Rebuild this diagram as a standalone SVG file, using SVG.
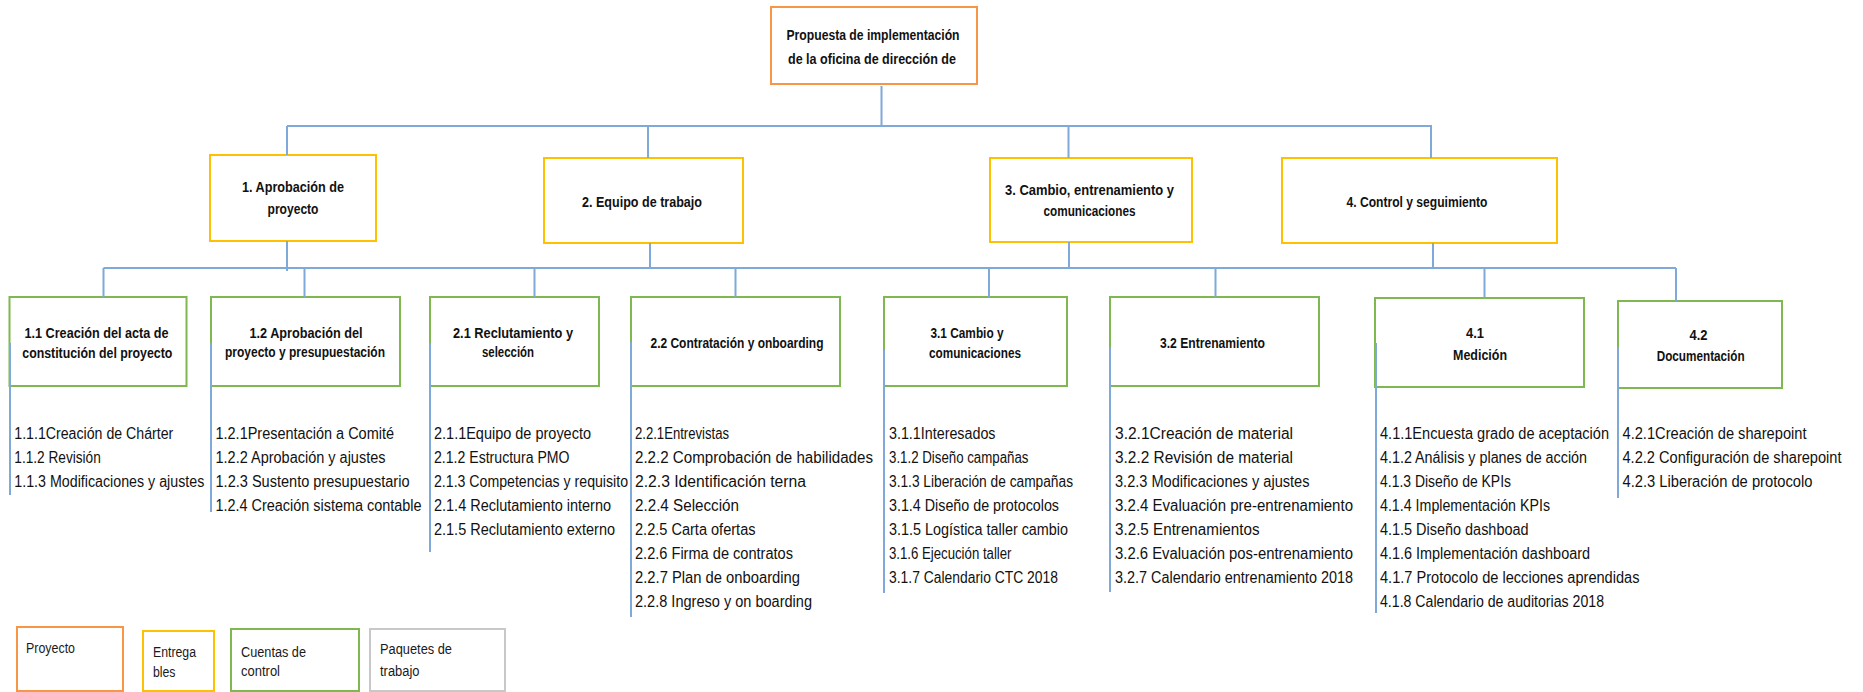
<svg xmlns="http://www.w3.org/2000/svg" width="1863" height="692" viewBox="0 0 1863 692">
  <style>
    .box { fill: #ffffff; stroke-width: 2; }
    .root { stroke: #F79646; }
    .del { stroke: #FFC000; }
    .acc { stroke: #7FB750; }
    .pkg { stroke: #C8C8C8; }
    .lbl { font-family: "Liberation Sans", Arial, sans-serif; font-size: 14px; font-weight: bold; fill: #111111; text-anchor: middle; }
    .leg { font-family: "Liberation Sans", Arial, sans-serif; font-size: 14px; fill: #1a1a1a; }
    .item { font-family: "Liberation Sans", Arial, sans-serif; font-size: 16px; fill: #111111; }
    .wire { fill: none; stroke: #7EA9D8; stroke-width: 2; }
  </style>
  <rect width="1863" height="692" fill="#ffffff"/>

  <!-- Root -->
  <g id="root">
    <rect class="box root" x="771" y="7" width="206" height="77"/>
    <text class="lbl" x="873" y="40" textLength="173" lengthAdjust="spacingAndGlyphs">Propuesta de implementación</text>
    <text class="lbl" x="872" y="64" textLength="168" lengthAdjust="spacingAndGlyphs">de la oficina de dirección de</text>
  </g>

  <!-- Deliverables -->
  <g id="d1">
    <rect class="box del" x="210" y="155" width="166" height="86"/>
    <text class="lbl" x="293" y="192" textLength="102" lengthAdjust="spacingAndGlyphs">1. Aprobación de</text>
    <text class="lbl" x="293" y="214" textLength="51" lengthAdjust="spacingAndGlyphs">proyecto</text>
  </g>
  <g id="d2">
    <rect class="box del" x="544" y="158" width="199" height="85"/>
    <text class="lbl" x="642" y="207" textLength="120" lengthAdjust="spacingAndGlyphs">2. Equipo de trabajo</text>
  </g>
  <g id="d3">
    <rect class="box del" x="990" y="158" width="202" height="84"/>
    <text class="lbl" x="1089.5" y="195" textLength="169" lengthAdjust="spacingAndGlyphs">3. Cambio, entrenamiento y</text>
    <text class="lbl" x="1089.5" y="216" textLength="92" lengthAdjust="spacingAndGlyphs">comunicaciones</text>
  </g>
  <g id="d4">
    <rect class="box del" x="1282" y="158" width="275" height="85"/>
    <text class="lbl" x="1417" y="207" textLength="141" lengthAdjust="spacingAndGlyphs">4. Control y seguimiento</text>
  </g>

  <!-- Control accounts -->
  <g id="a11">
    <rect class="box acc" x="9.5" y="297" width="177" height="89"/>
    <text class="lbl" x="96.5" y="338" textLength="144" lengthAdjust="spacingAndGlyphs">1.1 Creación del acta de</text>
    <text class="lbl" x="97.3" y="358" textLength="150" lengthAdjust="spacingAndGlyphs">constitución del proyecto</text>
  </g>
  <g id="a12">
    <rect class="box acc" x="211" y="297" width="189" height="89"/>
    <text class="lbl" x="306" y="338" textLength="113" lengthAdjust="spacingAndGlyphs">1.2 Aprobación del</text>
    <text class="lbl" x="305" y="357" textLength="160" lengthAdjust="spacingAndGlyphs">proyecto y presupuestación</text>
  </g>
  <g id="a21">
    <rect class="box acc" x="430" y="297" width="169" height="89"/>
    <text class="lbl" x="513" y="338" textLength="120" lengthAdjust="spacingAndGlyphs">2.1 Reclutamiento y</text>
    <text class="lbl" x="508" y="357" textLength="52" lengthAdjust="spacingAndGlyphs">selección</text>
  </g>
  <g id="a22">
    <rect class="box acc" x="631" y="297" width="209" height="89"/>
    <text class="lbl" x="737" y="348" textLength="173" lengthAdjust="spacingAndGlyphs">2.2 Contratación y onboarding</text>
  </g>
  <g id="a31">
    <rect class="box acc" x="884" y="297" width="183" height="89"/>
    <text class="lbl" x="967" y="338" textLength="73" lengthAdjust="spacingAndGlyphs">3.1 Cambio y</text>
    <text class="lbl" x="975" y="358" textLength="92" lengthAdjust="spacingAndGlyphs">comunicaciones</text>
  </g>
  <g id="a32">
    <rect class="box acc" x="1110" y="297" width="209" height="89"/>
    <text class="lbl" x="1212.5" y="348" textLength="105" lengthAdjust="spacingAndGlyphs">3.2 Entrenamiento</text>
  </g>
  <g id="a41">
    <rect class="box acc" x="1375" y="298" width="209" height="89"/>
    <text class="lbl" x="1475" y="338" textLength="18" lengthAdjust="spacingAndGlyphs">4.1</text>
    <text class="lbl" x="1480" y="360" textLength="54" lengthAdjust="spacingAndGlyphs">Medición</text>
  </g>
  <g id="a42">
    <rect class="box acc" x="1618" y="301" width="164" height="87"/>
    <text class="lbl" x="1698.5" y="340" textLength="18" lengthAdjust="spacingAndGlyphs">4.2</text>
    <text class="lbl" x="1700.7" y="361" textLength="88" lengthAdjust="spacingAndGlyphs">Documentación</text>
  </g>

  <!-- Work packages -->
  <g id="p11">
    <text class="item" x="14.3" y="439" textLength="159" lengthAdjust="spacingAndGlyphs">1.1.1Creación de Chárter</text>
    <text class="item" x="14.3" y="463" textLength="86.5" lengthAdjust="spacingAndGlyphs">1.1.2 Revisión</text>
    <text class="item" x="14.3" y="487" textLength="190" lengthAdjust="spacingAndGlyphs">1.1.3 Modificaciones y ajustes</text>
  </g>
  <g id="p12">
    <text class="item" x="215.5" y="439" textLength="178.5" lengthAdjust="spacingAndGlyphs">1.2.1Presentación a Comité</text>
    <text class="item" x="215.5" y="463" textLength="170" lengthAdjust="spacingAndGlyphs">1.2.2 Aprobación y ajustes</text>
    <text class="item" x="215.5" y="487" textLength="194" lengthAdjust="spacingAndGlyphs">1.2.3 Sustento presupuestario</text>
    <text class="item" x="215.5" y="511" textLength="206" lengthAdjust="spacingAndGlyphs">1.2.4 Creación sistema contable</text>
  </g>
  <g id="p21">
    <text class="item" x="434" y="439" textLength="157" lengthAdjust="spacingAndGlyphs">2.1.1Equipo de proyecto</text>
    <text class="item" x="434" y="463" textLength="135.5" lengthAdjust="spacingAndGlyphs">2.1.2 Estructura PMO</text>
    <text class="item" x="434" y="487" textLength="194" lengthAdjust="spacingAndGlyphs">2.1.3 Competencias y requisito</text>
    <text class="item" x="434" y="511" textLength="177" lengthAdjust="spacingAndGlyphs">2.1.4 Reclutamiento interno</text>
    <text class="item" x="434" y="535" textLength="181" lengthAdjust="spacingAndGlyphs">2.1.5 Reclutamiento externo</text>
  </g>
  <g id="p22">
    <text class="item" x="635" y="439" textLength="94" lengthAdjust="spacingAndGlyphs">2.2.1Entrevistas</text>
    <text class="item" x="635" y="463" textLength="238" lengthAdjust="spacingAndGlyphs">2.2.2 Comprobación de habilidades</text>
    <text class="item" x="635" y="487" textLength="171" lengthAdjust="spacingAndGlyphs">2.2.3 Identificación terna</text>
    <text class="item" x="635" y="511" textLength="104" lengthAdjust="spacingAndGlyphs">2.2.4 Selección</text>
    <text class="item" x="635" y="535" textLength="120.5" lengthAdjust="spacingAndGlyphs">2.2.5 Carta ofertas</text>
    <text class="item" x="635" y="559" textLength="158" lengthAdjust="spacingAndGlyphs">2.2.6 Firma de contratos</text>
    <text class="item" x="635" y="583" textLength="165" lengthAdjust="spacingAndGlyphs">2.2.7 Plan de onboarding</text>
    <text class="item" x="635" y="607" textLength="177" lengthAdjust="spacingAndGlyphs">2.2.8 Ingreso y on boarding</text>
  </g>
  <g id="p31">
    <text class="item" x="889" y="439" textLength="106.5" lengthAdjust="spacingAndGlyphs">3.1.1Interesados</text>
    <text class="item" x="889" y="463" textLength="139.5" lengthAdjust="spacingAndGlyphs">3.1.2 Diseño campañas</text>
    <text class="item" x="889" y="487" textLength="184" lengthAdjust="spacingAndGlyphs">3.1.3 Liberación de campañas</text>
    <text class="item" x="889" y="511" textLength="170" lengthAdjust="spacingAndGlyphs">3.1.4 Diseño de protocolos</text>
    <text class="item" x="889" y="535" textLength="179" lengthAdjust="spacingAndGlyphs">3.1.5 Logística taller cambio</text>
    <text class="item" x="889" y="559" textLength="122.5" lengthAdjust="spacingAndGlyphs">3.1.6 Ejecución taller</text>
    <text class="item" x="889" y="583" textLength="169" lengthAdjust="spacingAndGlyphs">3.1.7 Calendario CTC 2018</text>
  </g>
  <g id="p32">
    <text class="item" x="1115" y="439" textLength="178" lengthAdjust="spacingAndGlyphs">3.2.1Creación de material</text>
    <text class="item" x="1115" y="463" textLength="178" lengthAdjust="spacingAndGlyphs">3.2.2 Revisión de material</text>
    <text class="item" x="1115" y="487" textLength="194.5" lengthAdjust="spacingAndGlyphs">3.2.3 Modificaciones y ajustes</text>
    <text class="item" x="1115" y="511" textLength="238" lengthAdjust="spacingAndGlyphs">3.2.4 Evaluación pre-entrenamiento</text>
    <text class="item" x="1115" y="535" textLength="144.5" lengthAdjust="spacingAndGlyphs">3.2.5 Entrenamientos</text>
    <text class="item" x="1115" y="559" textLength="238" lengthAdjust="spacingAndGlyphs">3.2.6 Evaluación pos-entrenamiento</text>
    <text class="item" x="1115" y="583" textLength="238" lengthAdjust="spacingAndGlyphs">3.2.7 Calendario entrenamiento 2018</text>
  </g>
  <g id="p41">
    <text class="item" x="1380" y="439" textLength="229" lengthAdjust="spacingAndGlyphs">4.1.1Encuesta grado de aceptación</text>
    <text class="item" x="1380" y="463" textLength="207" lengthAdjust="spacingAndGlyphs">4.1.2 Análisis y planes de acción</text>
    <text class="item" x="1380" y="487" textLength="131" lengthAdjust="spacingAndGlyphs">4.1.3 Diseño de KPIs</text>
    <text class="item" x="1380" y="511" textLength="170" lengthAdjust="spacingAndGlyphs">4.1.4 Implementación KPIs</text>
    <text class="item" x="1380" y="535" textLength="148.5" lengthAdjust="spacingAndGlyphs">4.1.5 Diseño dashboad</text>
    <text class="item" x="1380" y="559" textLength="210" lengthAdjust="spacingAndGlyphs">4.1.6 Implementación dashboard</text>
    <text class="item" x="1380" y="583" textLength="259.5" lengthAdjust="spacingAndGlyphs">4.1.7 Protocolo de lecciones aprendidas</text>
    <text class="item" x="1380" y="607" textLength="224" lengthAdjust="spacingAndGlyphs">4.1.8 Calendario de auditorias 2018</text>
  </g>
  <g id="p42">
    <text class="item" x="1622.5" y="439" textLength="184" lengthAdjust="spacingAndGlyphs">4.2.1Creación de sharepoint</text>
    <text class="item" x="1622.5" y="463" textLength="219" lengthAdjust="spacingAndGlyphs">4.2.2 Configuración de sharepoint</text>
    <text class="item" x="1622.5" y="487" textLength="190" lengthAdjust="spacingAndGlyphs">4.2.3 Liberación de protocolo</text>
  </g>

  <!-- Connectors -->
  <g id="connectors" class="wire">
    <path d="M881.5 86 V126"/>
    <path d="M287 126 H1432"/>
    <path d="M287 126 V155 M648 126 V158 M1068.5 126 V158 M1431 126 V158"/>
    <path d="M287 241 V271 M650 243 V268 M1069 242 V269 M1433 243 V268"/>
    <path d="M103.5 268 H1676"/>
    <path d="M103.5 268 V297 M304.5 268 V297 M534.5 268 V297 M735.5 268 V297 M989 268 V297 M1215.5 268 V297 M1484.5 268 V298 M1676 268 V301"/>
    <path d="M10 343 V495 M211 343 V512 M430 343 V552 M631 342 V617 M884 350 V593 M1110 347 V592 M1376 343 V613 M1618 347 V498"/>
  </g>

  <!-- Legend -->
  <g id="legend-proyecto">
    <rect class="box root" x="17" y="627" width="106" height="64"/>
    <text class="leg" x="26" y="652.5" textLength="49" lengthAdjust="spacingAndGlyphs">Proyecto</text>
  </g>
  <g id="legend-entregables">
    <rect class="box del" x="143" y="631" width="71" height="60"/>
    <text class="leg" x="153" y="656.5" textLength="43" lengthAdjust="spacingAndGlyphs">Entrega</text>
    <text class="leg" x="153" y="676.5" textLength="22.5" lengthAdjust="spacingAndGlyphs">bles</text>
  </g>
  <g id="legend-cuentas">
    <rect class="box acc" x="231" y="629" width="128" height="62"/>
    <text class="leg" x="241" y="656.5" textLength="65" lengthAdjust="spacingAndGlyphs">Cuentas de</text>
    <text class="leg" x="241" y="676" textLength="39" lengthAdjust="spacingAndGlyphs">control</text>
  </g>
  <g id="legend-paquetes">
    <rect class="box pkg" x="370" y="629" width="135" height="62"/>
    <text class="leg" x="380" y="654" textLength="72" lengthAdjust="spacingAndGlyphs">Paquetes de</text>
    <text class="leg" x="380" y="676" textLength="39.5" lengthAdjust="spacingAndGlyphs">trabajo</text>
  </g>
</svg>
